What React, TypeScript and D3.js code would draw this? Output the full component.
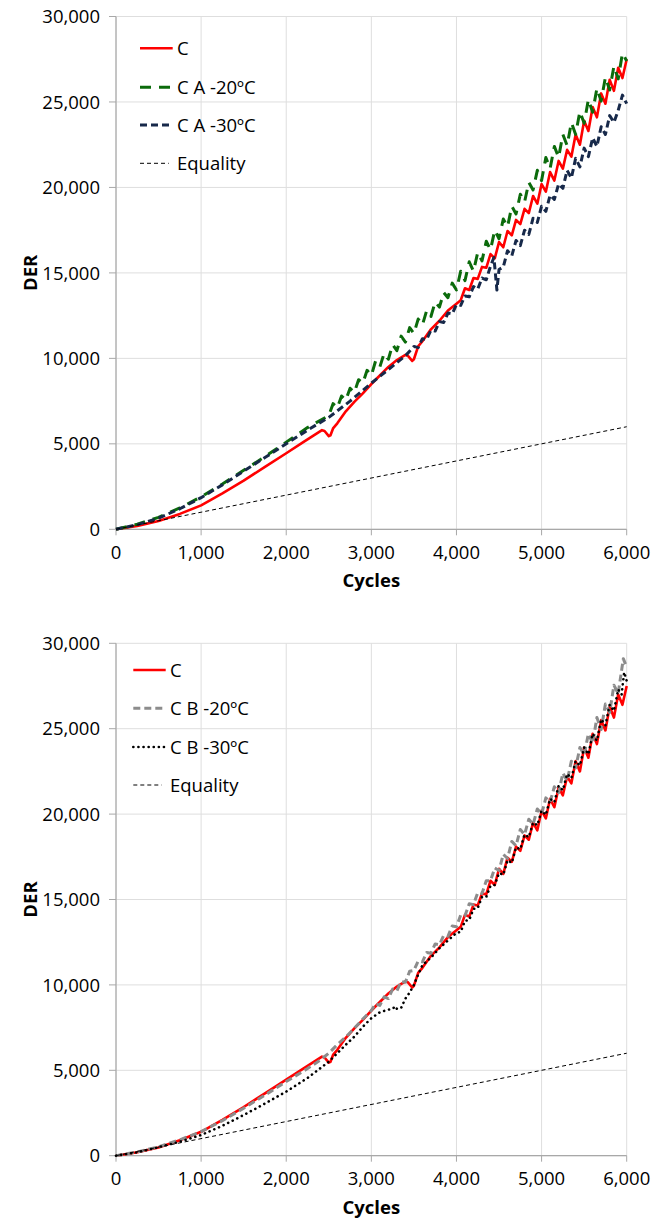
import React from "react";
import * as d3 from "d3";

type Pt = [number, number];

const xTicks = [0, 1000, 2000, 3000, 4000, 5000, 6000];
const yTicks = [0, 5000, 10000, 15000, 20000, 25000, 30000];

const equality: Pt[] = [[0, 0], [6000, 6000]];

const seriesC: Pt[] = [
  [0, 0], [250, 200], [500, 480], [750, 900], [1000, 1400], [1250, 2100], [1500, 2850], [1750, 3650],
  [2000, 4450], [2200, 5100], [2420, 5800], [2450, 5750], [2500, 5450], [2520, 5500], [2550, 5900],
  [2600, 6200], [2700, 6900], [2800, 7450], [2900, 7950], [3000, 8500], [3100, 9000], [3200, 9500],
  [3300, 9900], [3400, 10200], [3430, 10150], [3480, 9850], [3500, 9950], [3550, 10700], [3600, 11000],
  [3700, 11700], [3800, 12200], [3900, 12800], [4000, 13200],
  [4050, 13400], [4100, 14100], [4150, 14000], [4200, 14700], [4250, 14650], [4300, 15350], [4350, 15300],
  [4400, 16100], [4450, 15850], [4500, 16800], [4550, 16500], [4600, 17450], [4650, 17200], [4700, 18100],
  [4750, 17850], [4800, 18750], [4850, 18500], [4900, 19500], [4950, 19050], [5000, 20200], [5050, 19750],
  [5100, 20900], [5150, 20400], [5200, 21550], [5250, 21100], [5300, 22200], [5350, 21800], [5400, 23100],
  [5450, 22500], [5500, 23900], [5550, 23300], [5600, 24700], [5650, 24100], [5700, 25500], [5750, 24900],
  [5800, 26300], [5850, 25650], [5900, 27000], [5950, 26400], [6000, 27500],
];

const seriesA20: Pt[] = [
  [0, 0], [250, 300], [500, 700], [750, 1250], [1000, 1900], [1250, 2650], [1500, 3450], [1750, 4250],
  [2000, 5100], [2250, 5950], [2500, 6650], [2550, 7350], [2600, 7100], [2650, 7800], [2700, 7550],
  [2750, 8250], [2800, 8000], [2850, 8750], [2900, 8550], [2950, 9300], [3000, 9000], [3050, 9850],
  [3100, 9500], [3150, 10300], [3200, 9950], [3250, 10800], [3300, 10450], [3350, 11300], [3400, 10950],
  [3450, 11800], [3500, 11450], [3550, 12300], [3600, 11950], [3650, 12800], [3700, 12450], [3750, 13300],
  [3800, 13000], [3850, 13850], [3900, 13550], [3950, 14400], [4000, 14000], [4050, 15100], [4100, 14550],
  [4150, 15650], [4200, 15100], [4250, 16200], [4300, 15700], [4350, 16850], [4400, 16350], [4450, 17500],
  [4500, 17000], [4550, 18150], [4600, 17700], [4650, 18900], [4700, 18450], [4750, 19600], [4800, 19150],
  [4850, 20300], [4900, 19850], [4950, 21000], [5000, 20400], [5050, 21750], [5100, 21100], [5150, 22400],
  [5200, 21750], [5250, 23100], [5300, 22450], [5350, 23800], [5400, 23100], [5450, 24450], [5500, 23750],
  [5550, 25150], [5600, 24400], [5650, 25800], [5700, 25050], [5750, 26450], [5800, 25700], [5850, 27100],
  [5900, 26350], [5950, 27850], [6000, 27400],
];

const seriesA30: Pt[] = [
  [0, 0], [250, 270], [500, 650], [750, 1200], [1000, 1850], [1250, 2600], [1500, 3400], [1750, 4200],
  [2000, 5000], [2250, 5800], [2500, 6550], [2750, 7500], [3000, 8550], [3250, 9550], [3400, 10150],
  [3500, 10700], [3550, 10630], [3600, 11150], [3650, 11100], [3700, 11650], [3750, 11600], [3800, 12150],
  [3850, 12100], [3900, 12650], [3950, 12600], [4000, 13150], [4050, 13100], [4100, 13650], [4150, 13600],
  [4200, 14200], [4250, 14050], [4300, 14700], [4350, 14600], [4400, 15400], [4440, 15900], [4475, 14000],
  [4500, 15200], [4550, 15350], [4600, 16300], [4650, 16000], [4700, 16900], [4750, 16600], [4800, 17500],
  [4850, 17250], [4900, 18200], [4950, 17950], [5000, 18900], [5050, 18600], [5100, 19550], [5150, 19300],
  [5200, 20200], [5250, 19950], [5300, 21000], [5350, 20550], [5400, 21700], [5450, 21200], [5500, 22300],
  [5550, 21800], [5600, 22900], [5650, 22400], [5700, 23550], [5750, 23100], [5800, 24200], [5850, 23800],
  [5900, 24500], [5950, 25400], [6000, 24900],
];

const seriesB20: Pt[] = [
  [0, 0], [250, 220], [500, 520], [750, 930], [1000, 1410], [1250, 2050], [1500, 2780], [1750, 3550],
  [2000, 4340], [2250, 5100], [2400, 5600], [2500, 6000], [2600, 6500], [2700, 6950], [2800, 7460],
  [2900, 8000], [3000, 8500], [3050, 8900], [3100, 8800], [3150, 9300], [3200, 9200], [3250, 9750],
  [3300, 9650], [3350, 10200], [3400, 10150], [3450, 10800], [3500, 10850], [3550, 11400], [3600, 11350],
  [3650, 11900], [3700, 11850], [3750, 12400], [3800, 12350], [3850, 12900], [3900, 12850], [3950, 13450],
  [4000, 13400], [4050, 14100], [4100, 14050], [4150, 14750], [4200, 14700], [4250, 15400], [4300, 15350],
  [4350, 16100], [4400, 16100], [4450, 16850], [4500, 16700], [4550, 17650], [4600, 17400], [4650, 18400],
  [4700, 18150], [4750, 19100], [4800, 18800], [4850, 19700], [4900, 19400], [4950, 20300], [5000, 20000],
  [5050, 20950], [5100, 20700], [5150, 21600], [5200, 21250], [5250, 22400], [5300, 21950], [5350, 23100],
  [5400, 22700], [5450, 23900], [5500, 23500], [5550, 24700], [5600, 24150], [5650, 25650], [5700, 24950],
  [5750, 26450], [5800, 25950], [5850, 27550], [5900, 27050], [5960, 29100], [6000, 28600],
];

const seriesB30: Pt[] = [
  [0, 0], [250, 200], [500, 500], [750, 820], [1000, 1210], [1250, 1750], [1500, 2380], [1750, 3050],
  [2000, 3750], [2250, 4550], [2500, 5500], [2600, 6000], [2700, 6500], [2800, 6970], [2900, 7550],
  [3000, 8050], [3100, 8400], [3200, 8550], [3250, 8600], [3280, 8750], [3300, 8600], [3350, 8650],
  [3400, 9200], [3450, 9550], [3500, 10000], [3550, 10600], [3600, 11150], [3700, 11600], [3800, 12150],
  [3900, 12600], [4000, 13050], [4050, 13100], [4100, 13750], [4150, 13800], [4200, 14450], [4250, 14500],
  [4300, 15150], [4350, 15150], [4400, 15800], [4450, 15850], [4500, 16550], [4550, 16450], [4600, 17300],
  [4650, 17150], [4700, 18050], [4750, 17950], [4800, 18800], [4850, 18650], [4900, 19500], [4950, 19350],
  [5000, 20200], [5050, 19950], [5100, 20900], [5150, 20700], [5200, 21650], [5250, 21400], [5300, 22350],
  [5350, 22100], [5400, 23100], [5450, 22850], [5500, 23900], [5550, 23500], [5600, 24700], [5650, 24300],
  [5700, 25550], [5750, 25200], [5800, 26400], [5850, 26050], [5900, 27300], [5940, 27000], [5970, 28300],
  [6000, 27800],
];

type Style = { color: string; width: number; dash?: string; cap?: "butt" | "round" };

const styleC: Style = { color: "#ff0000", width: 2.6 };
const styleA20: Style = { color: "#0b6b0b", width: 3, dash: "11,8" };
const styleA30: Style = { color: "#17294a", width: 3, dash: "7,4" };
const styleB20: Style = { color: "#8c8c8c", width: 3, dash: "7,4" };
const styleB30: Style = { color: "#000000", width: 2.6, dash: "0.1,5", cap: "round" };
const styleEq: Style = { color: "#000000", width: 1, dash: "4,3" };

type Series = { name: string; data: Pt[]; style: Style };

const FONT = "'Open Sans', 'Noto Sans', sans-serif";
const FS = 18.5;

function Chart(props: {
  top: number;
  bottom: number;
  series: Series[];
  legendLineX: [number, number];
  legendTextX: number;
  legendRows: number[];
}) {
  const { top, bottom, series, legendLineX, legendTextX, legendRows } = props;
  const left = 116;
  const right = 626.7;
  const x = d3.scaleLinear().domain([0, 6000]).range([left, right]);
  const y = d3.scaleLinear().domain([0, 30000]).range([bottom, top]);
  const line = d3
    .line<Pt>()
    .x((d) => x(d[0]))
    .y((d) => y(d[1]));
  const fmt = d3.format(",");
  const plotMid = (top + bottom) / 2;
  return (
    <g>
      {xTicks.map((t) => (
        <line key={"gx" + t} x1={x(t)} x2={x(t)} y1={top} y2={bottom} stroke="#dedede" strokeWidth={1} />
      ))}
      {yTicks.map((t) => (
        <line key={"gy" + t} x1={left} x2={right} y1={y(t)} y2={y(t)} stroke="#dedede" strokeWidth={1} />
      ))}
      <line x1={left} x2={left} y1={top} y2={bottom} stroke="#a8a8a8" strokeWidth={1.2} />
      <line x1={left} x2={right} y1={bottom} y2={bottom} stroke="#a8a8a8" strokeWidth={1.2} />
      {yTicks.map((t) => (
        <line key={"ty" + t} x1={left - 7} x2={left} y1={y(t)} y2={y(t)} stroke="#a8a8a8" strokeWidth={1} />
      ))}
      {xTicks.map((t) => (
        <line key={"tx" + t} x1={x(t)} x2={x(t)} y1={bottom} y2={bottom + 6} stroke="#a8a8a8" strokeWidth={1} />
      ))}
      {yTicks.map((t) => (
        <text key={"ly" + t} x={100} y={y(t)} dy="0.36em" textAnchor="end" fontFamily={FONT} fontSize={FS} fill="#000">
          {fmt(t)}
        </text>
      ))}
      {xTicks.map((t) => (
        <text key={"lx" + t} x={x(t)} y={bottom + 29.3} textAnchor="middle" fontFamily={FONT} fontSize={FS} fill="#000">
          {fmt(t)}
        </text>
      ))}
      <text x={(left + right) / 2} y={bottom + 58} textAnchor="middle" fontFamily={FONT} fontSize={FS} fontWeight="bold">
        Cycles
      </text>
      <text
        transform={`translate(37,${plotMid}) rotate(-90)`}
        textAnchor="middle"
        fontFamily={FONT}
        fontSize={FS}
        fontWeight="bold"
      >
        DER
      </text>
      {series.map((s) => (
        <path
          key={"p" + s.name}
          d={line(s.data) || ""}
          fill="none"
          stroke={s.style.color}
          strokeWidth={s.style.width}
          strokeDasharray={s.style.dash}
          strokeLinecap={s.style.cap || "butt"}
          strokeLinejoin="round"
        />
      ))}
      {series.map((s, i) => (
        <g key={"lg" + s.name}>
          <line
            x1={legendLineX[0]}
            x2={s.name === "Equality" ? legendLineX[1] - 4 : legendLineX[1]}
            y1={legendRows[i]}
            y2={legendRows[i]}
            stroke={s.style.color}
            strokeWidth={s.style.width}
            strokeDasharray={s.style.dash}
            strokeLinecap={s.style.cap || "butt"}
          />
          <text x={legendTextX} y={legendRows[i]} dy="0.36em" fontFamily={FONT} fontSize={FS} fill="#000">
            {s.name}
          </text>
        </g>
      ))}
    </g>
  );
}

export default function App() {
  const topSeries: Series[] = [
    { name: "C", data: seriesC, style: styleC },
    { name: "C A -20ºC", data: seriesA20, style: styleA20 },
    { name: "C A -30ºC", data: seriesA30, style: styleA30 },
    { name: "Equality", data: equality, style: styleEq },
  ];
  const bottomSeries: Series[] = [
    { name: "C", data: seriesC, style: styleC },
    { name: "C B -20ºC", data: seriesB20, style: styleB20 },
    { name: "C B -30ºC", data: seriesB30, style: styleB30 },
    { name: "Equality", data: equality, style: styleEq },
  ];
  return (
    <svg
      width={658}
      height={1221}
      viewBox="0 0 658 1221"
      style={{ position: "absolute", left: 0, top: 0, background: "#fff" }}
    >
      <rect x={0} y={0} width={658} height={1221} fill="#fff" />
      <Chart
        top={16.5}
        bottom={529.3}
        series={topSeries}
        legendLineX={[140, 172.7]}
        legendTextX={177}
        legendRows={[48.3, 87.3, 125, 163.3]}
      />
      <Chart
        top={643.3}
        bottom={1155.7}
        series={bottomSeries}
        legendLineX={[133.3, 165.7]}
        legendTextX={170}
        legendRows={[670, 708.3, 747, 785]}
      />
    </svg>
  );
}
